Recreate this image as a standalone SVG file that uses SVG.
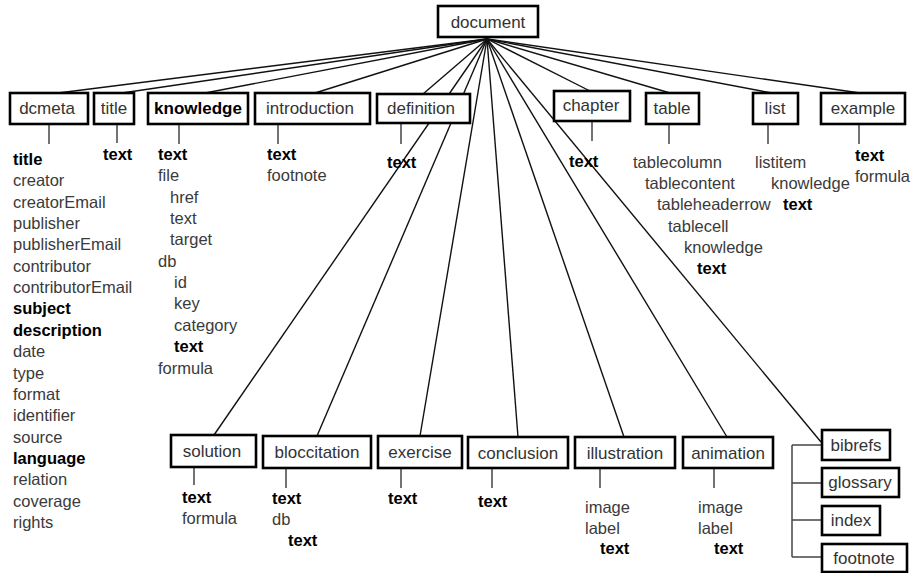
<svg xmlns="http://www.w3.org/2000/svg" width="914" height="573" viewBox="0 0 914 573">
<style>
.box{fill:#fff;stroke:#000;stroke-width:2.6}
.lbl{font-family:"Liberation Sans",Arial,sans-serif;font-size:17px;fill:#333;text-anchor:middle}
.t{font-family:"Liberation Sans",Arial,sans-serif;font-size:16.5px;fill:#3a3a3a}
.b{font-weight:bold;fill:#000}
.con line{stroke:#111;stroke-width:1.4}
.sub line{stroke:#444;stroke-width:1.5}
</style>
<rect width="914" height="573" fill="#fff"/>
<g class="con" id="connectors">
<line x1="487" y1="39" x2="58" y2="93"/>
<line x1="487" y1="39" x2="122" y2="93"/>
<line x1="487" y1="39" x2="205" y2="93"/>
<line x1="487" y1="39" x2="315" y2="93"/>
<line x1="487" y1="39" x2="423" y2="94"/>
<line x1="487" y1="39" x2="590" y2="91"/>
<line x1="487" y1="39" x2="670" y2="93"/>
<line x1="487" y1="39" x2="772" y2="93"/>
<line x1="487" y1="39" x2="860" y2="93"/>
<line x1="487" y1="39" x2="214" y2="435"/>
<line x1="487" y1="39" x2="317" y2="436"/>
<line x1="487" y1="39" x2="420" y2="436"/>
<line x1="487" y1="39" x2="518" y2="437"/>
<line x1="487" y1="39" x2="624" y2="437"/>
<line x1="487" y1="39" x2="727" y2="437"/>
<line x1="487" y1="39" x2="821" y2="442"/>
</g>
<g class="sub" id="subconnectors">
<line x1="49" y1="124" x2="49" y2="144"/>
<line x1="117" y1="124" x2="117" y2="143"/>
<line x1="179" y1="124" x2="179" y2="144"/>
<line x1="278" y1="124" x2="278" y2="144"/>
<line x1="401" y1="123" x2="401" y2="144"/>
<line x1="592" y1="121" x2="592" y2="141"/>
<line x1="669" y1="124" x2="669" y2="144"/>
<line x1="768" y1="124" x2="768" y2="144"/>
<line x1="859" y1="124" x2="859" y2="144"/>
<line x1="194" y1="467" x2="194" y2="485"/>
<line x1="286" y1="468" x2="286" y2="488"/>
<line x1="401" y1="468" x2="401" y2="488"/>
<line x1="492" y1="468" x2="492" y2="488"/>
<line x1="600" y1="468" x2="600" y2="488"/>
<line x1="714" y1="468" x2="714" y2="488"/>
<line x1="792" y1="445" x2="792" y2="557"/>
<line x1="792" y1="445" x2="822" y2="445"/>
<line x1="792" y1="483" x2="822" y2="483"/>
<line x1="792" y1="520" x2="822" y2="520"/>
<line x1="792" y1="557" x2="822" y2="557"/>
</g>
<g id="document"><rect class="box" x="438" y="6" width="100" height="31"/><text class="lbl" x="488" y="28">document</text></g>
<g id="dcmeta"><rect class="box" x="10" y="93" width="78" height="31"/><text class="lbl" x="47" y="114">dcmeta</text>
<text class="t" x="13" y="165"><tspan class="b">title</tspan><tspan x="13" dy="21.35">creator</tspan><tspan x="13" dy="21.35">creatorEmail</tspan><tspan x="13" dy="21.35">publisher</tspan><tspan x="13" dy="21.35">publisherEmail</tspan><tspan x="13" dy="21.35">contributor</tspan><tspan x="13" dy="21.35">contributorEmail</tspan><tspan x="13" dy="21.35" class="b">subject</tspan><tspan x="13" dy="21.35" class="b">description</tspan><tspan x="13" dy="21.35">date</tspan><tspan x="13" dy="21.35">type</tspan><tspan x="13" dy="21.35">format</tspan><tspan x="13" dy="21.35">identifier</tspan><tspan x="13" dy="21.35">source</tspan><tspan x="13" dy="21.35" class="b">language</tspan><tspan x="13" dy="21.35">relation</tspan><tspan x="13" dy="21.35">coverage</tspan><tspan x="13" dy="21.35">rights</tspan></text></g>
<g id="title"><rect class="box" x="94" y="93" width="40" height="31"/><text class="lbl" x="114" y="114">title</text><text class="t b" x="103" y="160">text</text></g>
<g id="knowledge"><rect class="box" x="148" y="93" width="100" height="31"/><text class="lbl b" x="198" y="114">knowledge</text>
<text class="t" x="158" y="160"><tspan class="b">text</tspan><tspan x="158" dy="21.35">file</tspan><tspan x="170" dy="21.35">href</tspan><tspan x="170" dy="21.35">text</tspan><tspan x="170" dy="21.35">target</tspan><tspan x="158" dy="21.35">db</tspan><tspan x="174" dy="21.35">id</tspan><tspan x="174" dy="21.35">key</tspan><tspan x="174" dy="21.35">category</tspan><tspan x="174" dy="21.35" class="b">text</tspan><tspan x="158" dy="21.35">formula</tspan></text></g>
<g id="introduction"><rect class="box" x="255" y="93" width="115" height="31"/><text class="lbl" x="310" y="114">introduction</text>
<text class="t" x="267" y="160"><tspan class="b">text</tspan><tspan x="267" dy="21.35">footnote</tspan></text></g>
<g id="definition"><rect class="box" x="377" y="94" width="93" height="29"/><text class="lbl" x="421" y="114">definition</text><text class="t b" x="387" y="168">text</text></g>
<g id="chapter"><rect class="box" x="554" y="91" width="76" height="30"/><text class="lbl" x="591" y="111">chapter</text><text class="t b" x="569" y="167">text</text></g>
<g id="table"><rect class="box" x="646" y="93" width="53" height="31"/><text class="lbl" x="672" y="114">table</text>
<text class="t" x="633" y="168">tablecolumn<tspan x="645" dy="21.2">tablecontent</tspan><tspan x="657" dy="21.2">tableheaderrow</tspan><tspan x="668" dy="21.2">tablecell</tspan><tspan x="684" dy="21.2">knowledge</tspan><tspan x="697" dy="21.2" class="b">text</tspan></text></g>
<g id="list"><rect class="box" x="753" y="93" width="45" height="31"/><text class="lbl" x="775" y="114">list</text>
<text class="t" x="755" y="168">listitem<tspan x="771" dy="21.2">knowledge</tspan><tspan x="783" dy="21.2" class="b">text</tspan></text></g>
<g id="example"><rect class="box" x="821" y="93" width="84" height="31"/><text class="lbl" x="863" y="114">example</text>
<text class="t" x="855" y="161"><tspan class="b">text</tspan><tspan x="855" dy="21.2">formula</tspan></text></g>
<g id="solution"><rect class="box" x="171" y="435" width="85" height="32"/><text class="lbl" x="212" y="457">solution</text>
<text class="t" x="182" y="503"><tspan class="b">text</tspan><tspan x="182" dy="21.2">formula</tspan></text></g>
<g id="bloccitation"><rect class="box" x="263" y="436" width="108" height="32"/><text class="lbl" x="317" y="458">bloccitation</text>
<text class="t" x="272" y="504"><tspan class="b">text</tspan><tspan x="272" dy="21.2">db</tspan><tspan x="288" dy="21.2" class="b">text</tspan></text></g>
<g id="exercise"><rect class="box" x="378" y="436" width="84" height="32"/><text class="lbl" x="420" y="458">exercise</text><text class="t b" x="388" y="504">text</text></g>
<g id="conclusion"><rect class="box" x="468" y="437" width="100" height="31"/><text class="lbl" x="518" y="459">conclusion</text><text class="t b" x="478" y="507">text</text></g>
<g id="illustration"><rect class="box" x="575" y="437" width="100" height="31"/><text class="lbl" x="625" y="459">illustration</text>
<text class="t" x="585" y="513">image<tspan x="585" dy="20.5">label</tspan><tspan x="600" dy="20.5" class="b">text</tspan></text></g>
<g id="animation"><rect class="box" x="683" y="437" width="90" height="31"/><text class="lbl" x="728" y="459">animation</text>
<text class="t" x="698" y="513">image<tspan x="698" dy="20.5">label</tspan><tspan x="714" dy="20.5" class="b">text</tspan></text></g>
<g id="bibrefs"><rect class="box" x="822" y="430" width="68" height="30"/><text class="lbl" x="856" y="451">bibrefs</text></g>
<g id="glossary"><rect class="box" x="822" y="468" width="77" height="29"/><text class="lbl" x="860" y="488">glossary</text></g>
<g id="index"><rect class="box" x="822" y="506" width="58" height="29"/><text class="lbl" x="851" y="526">index</text></g>
<g id="footnote"><rect class="box" x="822" y="544" width="85" height="28"/><text class="lbl" x="864" y="564">footnote</text></g>
</svg>
